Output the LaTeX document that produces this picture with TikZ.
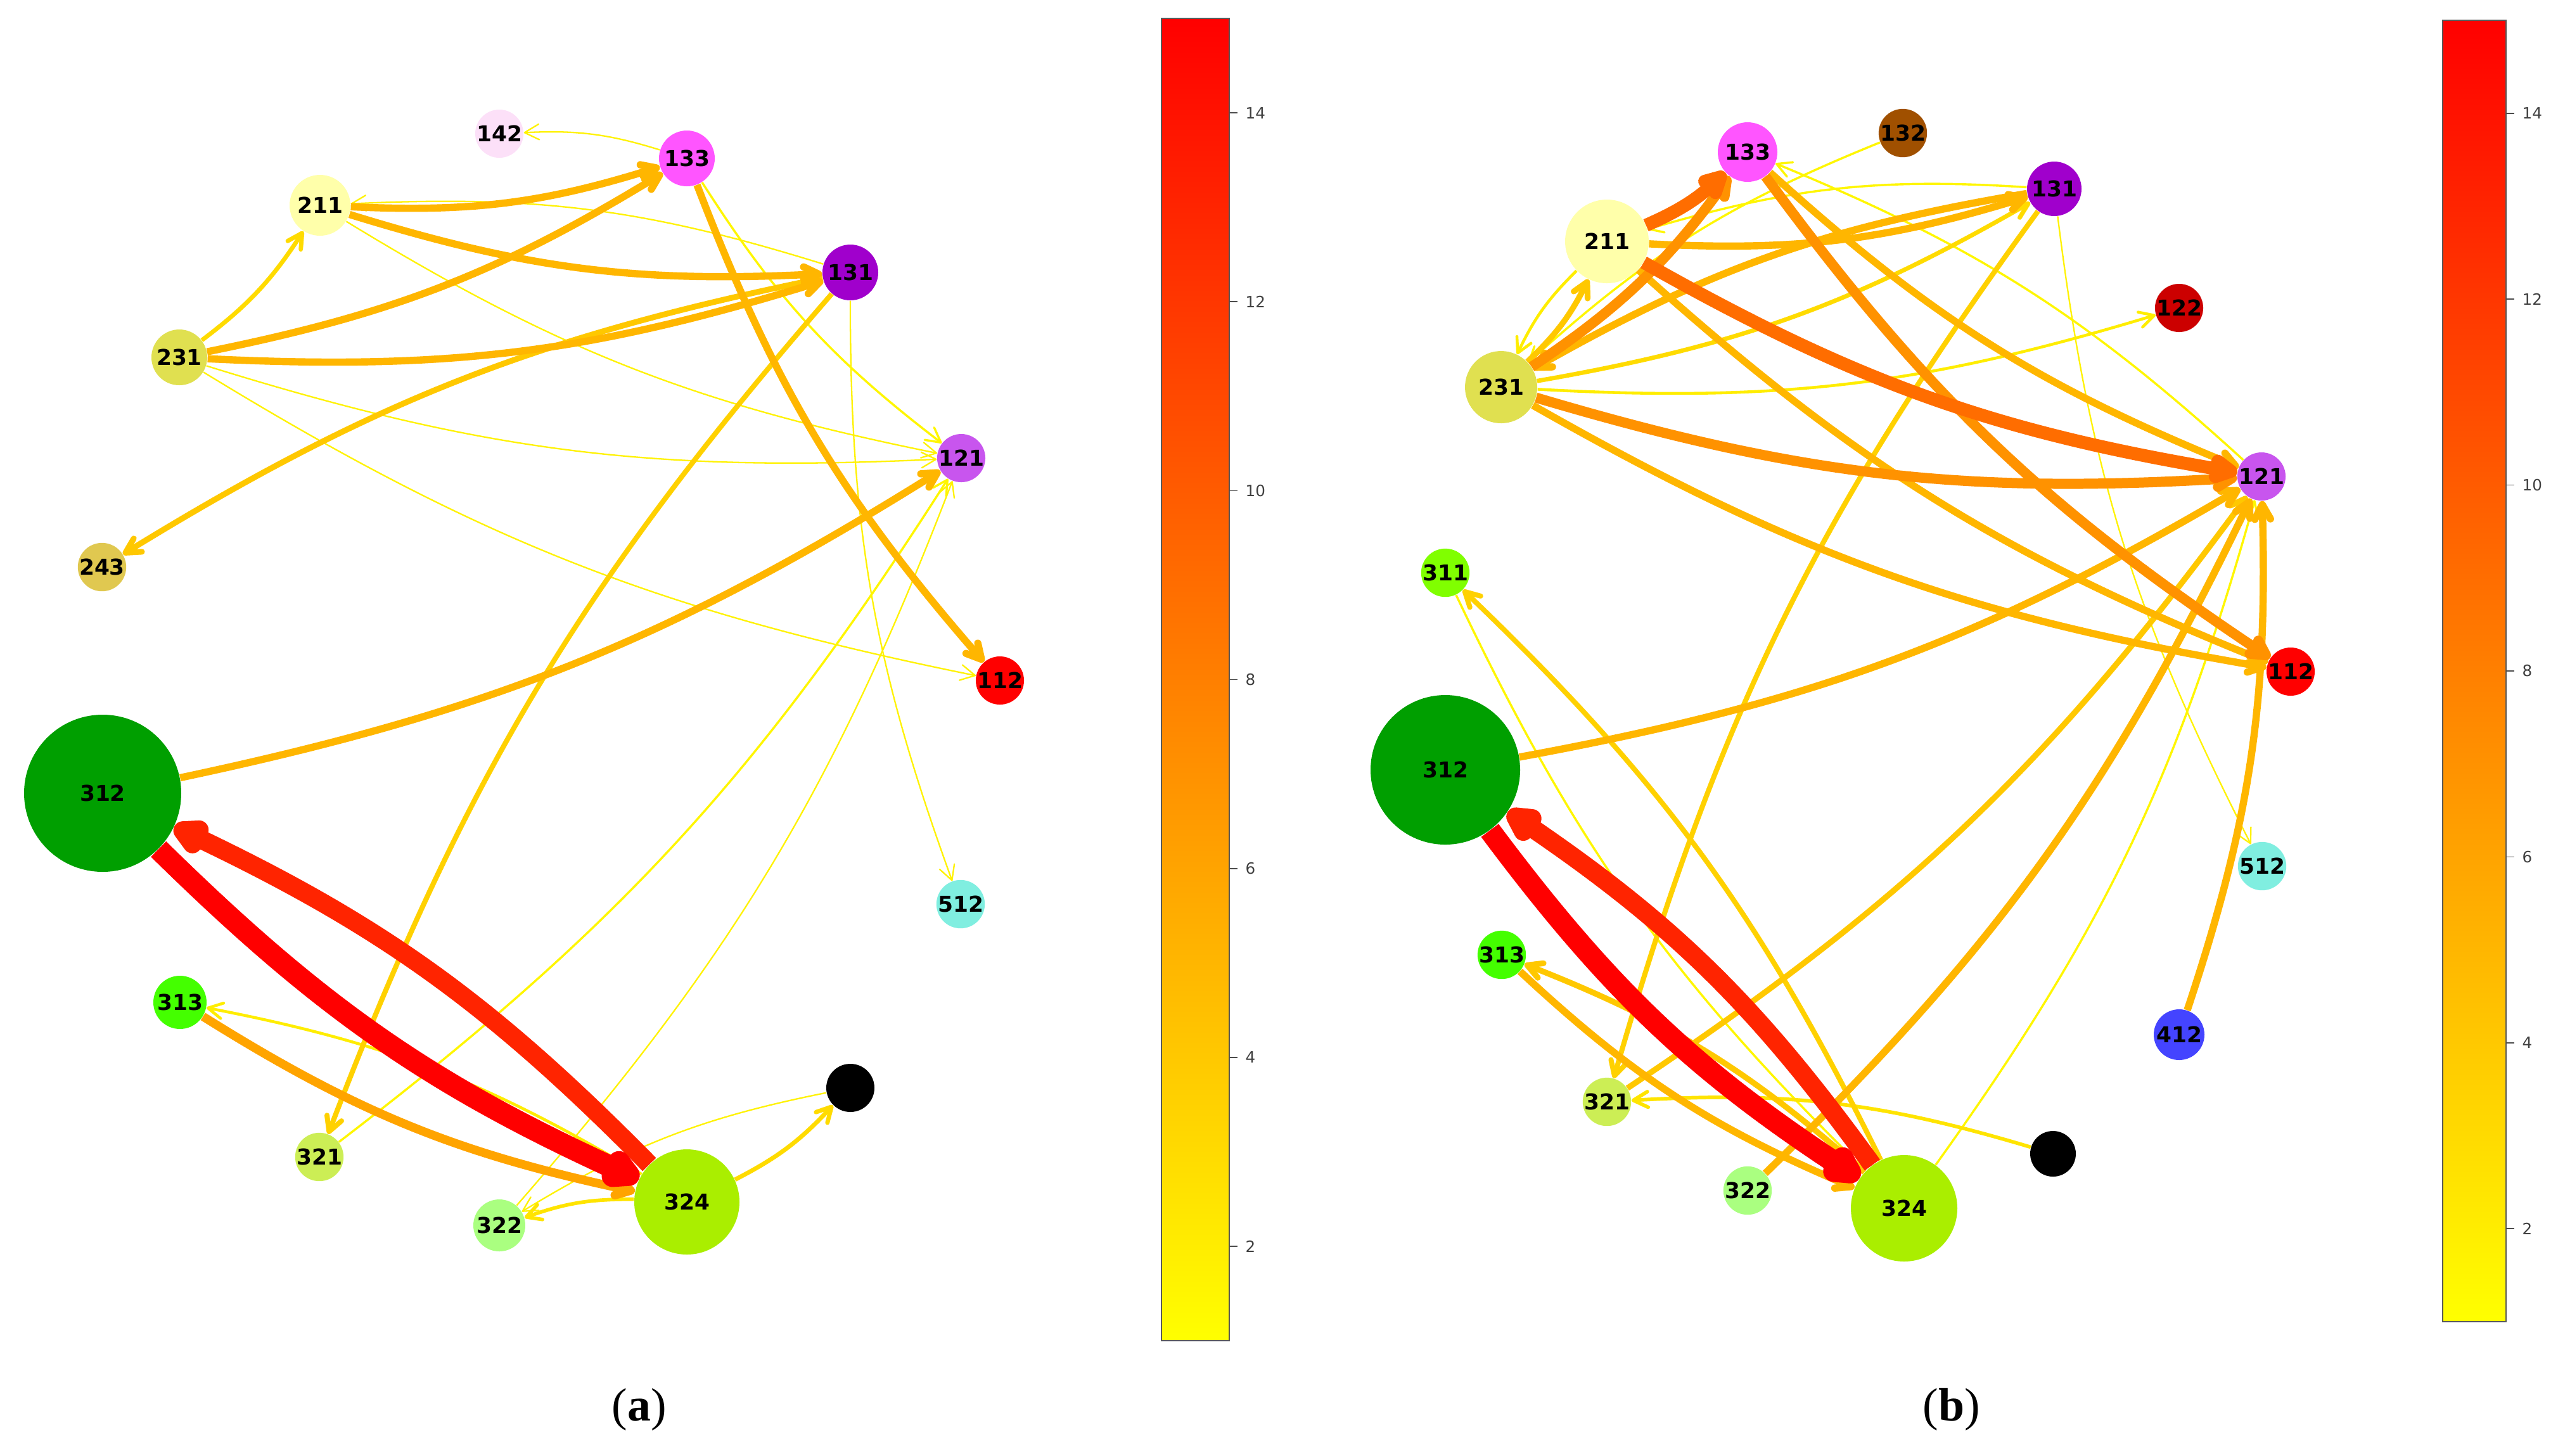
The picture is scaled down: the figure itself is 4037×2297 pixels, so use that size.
\documentclass[tikz,border=0pt]{standalone}
\usepackage{fontspec}
\setmainfont{Liberation Serif}
\newfontfamily\lblfont{DejaVu Sans}
\usepackage{tikz}
\usetikzlibrary{arrows.meta}

\newcommand\lbl{\lblfont\bfseries\fontsize{9.8}{11}\selectfont}
\newcommand\cbfont{\lblfont\fontsize{7}{8}\selectfont}
\newcommand\capfont{\fontsize{21}{25}\selectfont}

\definecolor{c142}{HTML}{FCE0F8}
\definecolor{c133}{HTML}{FF55FF}
\definecolor{c132}{HTML}{A05000}
\definecolor{c211}{HTML}{FFFFAA}
\definecolor{c131}{HTML}{A000CC}
\definecolor{c231}{HTML}{E0E050}
\definecolor{c122}{HTML}{CC0000}
\definecolor{c121}{HTML}{C855EE}
\definecolor{c243}{HTML}{E0C850}
\definecolor{c311}{HTML}{80FF00}
\definecolor{c112}{HTML}{FF0000}
\definecolor{c312}{HTML}{009F00}
\definecolor{c512}{HTML}{80EEE0}
\definecolor{c313}{HTML}{44FF00}
\definecolor{c412}{HTML}{4444FF}
\definecolor{c321}{HTML}{CCEE55}
\definecolor{c322}{HTML}{AAFF80}
\definecolor{c324}{HTML}{AAEE00}

% edge weight -> colour (yellow..red) and width
\tikzset{
  flow/.code={%
    \pgfmathsetmacro\flowmix{(#1-1)*100/14}%
    \pgfmathsetmacro\flowwd{0.65*#1}%
    \edef\flowset{draw=red!\flowmix!yellow, line width=\flowwd pt}%
    \expandafter\pgfkeysalso\expandafter{\flowset}%
  }
}

\begin{document}
\begin{tikzpicture}[x=0.1mm,y=0.1mm]
\useasboundingbox (0,0) rectangle (4037,-2297);

	% (a) nodes
	\begin{scope}[every node/.style={circle,inner sep=0pt,font=\lbl}]
    \node[fill=c142,minimum size=6.8mm] (a142) at (788,-211) {142};
    \node[fill=c133,minimum size=8.8mm] (a133) at (1084,-250) {133};
    \node[fill=c211,minimum size=9.6mm] (a211) at (505,-324) {211};
    \node[fill=c131,minimum size=8.8mm] (a131) at (1342,-430) {131};
    \node[fill=c231,minimum size=8.8mm] (a231) at (283,-564) {231};
    \node[fill=c121,minimum size=7.2mm] (a121) at (1517,-723) {121};
    \node[fill=c243,minimum size=7.4mm] (a243) at (161,-895) {243};
    \node[fill=c112,minimum size=7.4mm] (a112) at (1578,-1074) {112};
    \node[fill=c312,minimum size=24.8mm] (a312) at (162,-1252) {312};
    \node[fill=c512,minimum size=7.2mm] (a512) at (1516,-1427) {512};
    \node[fill=c313,minimum size=8.4mm] (a313) at (284,-1582) {313};
    \node[fill=black,minimum size=7.6mm] (ablk) at (1342,-1717) {};
    \node[fill=c321,minimum size=7.6mm] (a321) at (504,-1826) {321};
    \node[fill=c324,minimum size=16.6mm] (a324) at (1084,-1897) {324};
    \node[fill=c322,minimum size=8.2mm] (a322) at (788,-1934) {322};
	\end{scope}

	% (b) nodes
	\begin{scope}[every node/.style={circle,inner sep=0pt,font=\lbl}]
    \node[fill=c133,minimum size=9.4mm] (b133) at (2758,-240) {133};
    \node[fill=c132,minimum size=7.4mm] (b132) at (3003,-210) {132};
    \node[fill=c211,minimum size=13.2mm] (b211) at (2536,-381) {211};
    \node[fill=c131,minimum size=8.6mm] (b131) at (3242,-298) {131};
    \node[fill=c231,minimum size=11.4mm] (b231) at (2369,-611) {231};
    \node[fill=c122,minimum size=6.8mm] (b122) at (3439,-486) {122};
    \node[fill=c121,minimum size=7.2mm] (b121) at (3569,-752) {121};
    \node[fill=c311,minimum size=7.2mm] (b311) at (2281,-904) {311};
    \node[fill=c112,minimum size=7.2mm] (b112) at (3615,-1060) {112};
    \node[fill=c312,minimum size=23.6mm] (b312) at (2281,-1215) {312};
    \node[fill=c512,minimum size=6.8mm] (b512) at (3570,-1367) {512};
    \node[fill=c313,minimum size=7.6mm] (b313) at (2370,-1507) {313};
    \node[fill=c412,minimum size=8mm] (b412) at (3439,-1633) {412};
    \node[fill=c321,minimum size=7.6mm] (b321) at (2536,-1739) {321};
    \node[fill=black,minimum size=7.2mm] (bblk) at (3240,-1821) {};
    \node[fill=c322,minimum size=7.6mm] (b322) at (2758,-1879) {322};
    \node[fill=c324,minimum size=16.8mm] (b324) at (3005,-1907) {324};
	\end{scope}

	% (a) edges
	\begin{scope}[>={Straight Barb[length=6.5pt,width=7pt,round]},
              every edge/.style={draw,bend right=10}]
    \path [->] (a133) edge [flow=1] (a142);
    \path [->] (a131) edge [flow=1] (a211);
    \path [->] (a211) edge [flow=1] (a121);
    \path [->] (a231) edge [flow=1] (a121);
    \path [->] (a231) edge [flow=1] (a112);
    \path [->] (a131) edge [flow=1] (a512);
    \path [->] (a322) edge [flow=1] (a121);
    \path [->] (ablk) edge [flow=1] (a322);
    \path [->] (a133) edge [flow=1.5] (a121);
    \path [->] (a321) edge [flow=1.5] (a121);
    \path [->] (a324) edge [flow=2] (a313);
    \path [->] (a324) edge [flow=2.5] (a322);
    \path [->] (a231) edge [flow=3] (a211);
    \path [->] (a324) edge [flow=3] (ablk);
    \path [->] (a131) edge [flow=3.5] (a321);
    \path [->] (a131) edge [flow=4] (a243);
    \path [->] (a211) edge [flow=5] (a133);
    \path [->] (a231) edge [flow=5] (a133);
    \path [->] (a211) edge [flow=5] (a131);
    \path [->] (a231) edge [flow=5] (a131);
    \path [->] (a133) edge [flow=5] (a112);
    \path [->] (a312) edge [flow=5] (a121);
    \path [->] (a313) edge [flow=6] (a324);
    \path [->] (a324) edge [flow=13] (a312);
    \path [->] (a312) edge [flow=15] (a324);
	\end{scope}

	% (b) edges
	\begin{scope}[>={Straight Barb[length=6.5pt,width=7pt,round]},
              every edge/.style={draw,bend right=10}]
    \path [->] (b131) edge [flow=1] (b512);
    \path [->] (b121) edge [flow=1.5] (b133);
    \path [->] (b132) edge [flow=1.5] (b231);
    \path [->] (b131) edge [flow=1.5] (b211);
    \path [->] (b324) edge [flow=1.5] (b121);
    \path [->] (b311) edge [flow=1.5] (b324);
    \path [->] (b211) edge [flow=2] (b231);
    \path [->] (b231) edge [flow=2] (b122);
    \path [->] (bblk) edge [flow=2.5] (b321);
    \path [->] (b231) edge [flow=3] (b131);
    \path [->] (b131) edge [flow=3.5] (b321);
    \path [->] (b324) edge [flow=3.5] (b311);
    \path [->] (b231) edge [flow=4] (b211);
    \path [->] (b324) edge [flow=4] (b313);
    \path [->] (b321) edge [flow=4] (b121);
    \path [->] (b211) edge [flow=5] (b131);
    \path [->] (b131) edge [flow=5] (b231);
    \path [->] (b231) edge [flow=5] (b112);
    \path [->] (b211) edge [flow=5] (b112);
    \path [->] (b133) edge [flow=5] (b121);
    \path [->] (b312) edge [flow=5] (b121);
    \path [->] (b322) edge [flow=5] (b121);
    \path [->] (b412) edge [flow=5] (b121);
    \path [->] (b313) edge [flow=5] (b324);
    \path [->] (b231) edge [flow=7] (b133);
    \path [->] (b231) edge [flow=7] (b121);
    \path [->] (b133) edge [flow=7] (b112);
    \path [->] (b211) edge [flow=9] (b133);
    \path [->] (b211) edge [flow=9] (b121);
    \path [->] (b324) edge [flow=13] (b312);
    \path [->] (b312) edge [flow=15] (b324);
	\end{scope}

	% colour bars
    \shade[bottom color=yellow,top color=red] (1833,-2116) rectangle (1940,-29);
    \draw[black!65,line width=0.6pt] (1833,-2116) rectangle (1940,-29);
    \foreach \v in {2,4,...,14} {
      \pgfmathsetmacro\yy{-2116+(\v-1)/14*2087}
      \draw[black!70,line width=0.5pt] (1940,\yy) -- ++(13,0) node[right,font=\cbfont,text=black!75] (ta\v) {\v};
    }
    \shade[bottom color=yellow,top color=red] (3855,-2086) rectangle (3955,-32);
    \draw[black!65,line width=0.6pt] (3855,-2086) rectangle (3955,-32);
    \foreach \v in {2,4,...,14} {
      \pgfmathsetmacro\yy{-2086+(\v-1)/14*2054}
      \draw[black!70,line width=0.5pt] (3955,\yy) -- ++(13,0) node[right,font=\cbfont,text=black!75] (tb\v) {\v};
    }

    \node[font=\capfont] (capa) at (1009,-2225) {(\textbf{a})};
    \node[font=\capfont] (capb) at (3080,-2225) {(\textbf{b})};
\end{tikzpicture}
\end{document}
